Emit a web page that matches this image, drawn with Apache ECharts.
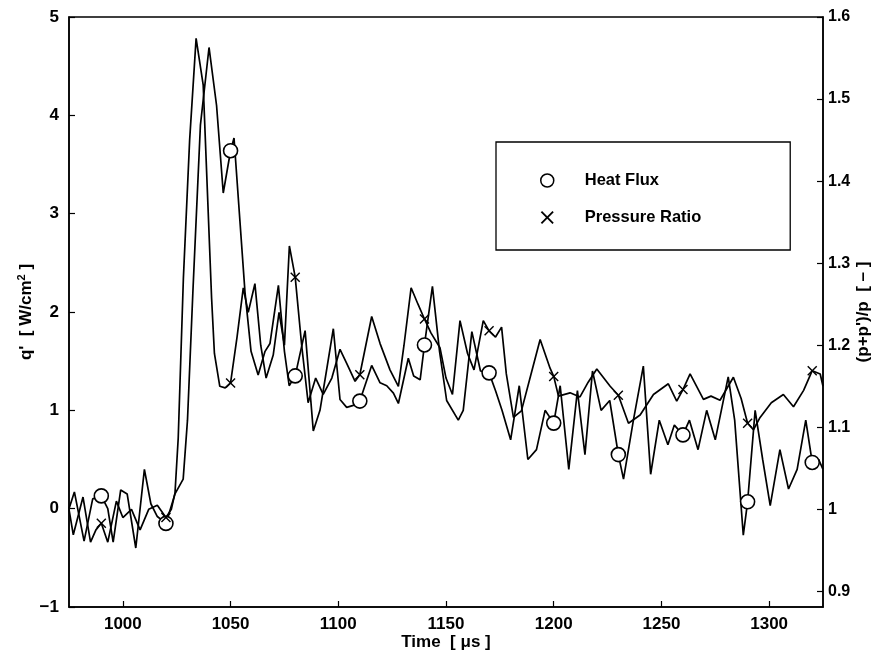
<!DOCTYPE html>
<html><head><meta charset="utf-8">
<script src="https://cdn.jsdelivr.net/npm/echarts@6/dist/echarts.min.js"></script>
<style>html,body{margin:0;padding:0;background:#fff}#c{width:885px;height:659px}</style>
</head><body><div id="c"></div>
<script>
// ---- data ----
const hfTime = [975,977.5,982,986,990,993,995.5,999,1002,1006,1010,1013,1016,1020,1024.2,1028,1030,1032.5,1036,1040,1043.5,1046.6,1050,1051.6,1056.7,1059.5,1062.8,1066,1068.3,1072.2,1075,1077.2,1080,1084.6,1088.4,1091.5,1094.5,1097.7,1100.8,1103.9,1107,1110,1115.5,1119.4,1122.5,1125.6,1127.9,1132.5,1135,1138,1140,1143.7,1147,1150.3,1155.7,1158,1162,1166,1170,1173,1176,1180,1184,1188,1192,1196,1200,1203,1207,1211,1214.5,1218,1222,1226,1230,1232.4,1237,1241.6,1245,1249,1253,1256,1260,1263,1267,1271,1275,1281,1284,1288,1290,1293.5,1297,1300.5,1305,1309,1313,1317,1320,1323,1325];
const hfValue = [0.0,0.17,-0.33,0.1,0.13,0.0,-0.34,0.19,0.15,-0.4,0.4,0.05,-0.08,-0.15,0.15,0.3,0.9,2.2,3.9,4.69,4.1,3.21,3.64,3.77,2.2,1.6,1.36,1.6,1.68,2.27,1.6,1.25,1.35,1.81,0.79,1.0,1.4,1.83,1.11,1.03,1.05,1.094,1.456,1.28,1.25,1.175,1.07,1.53,1.35,1.31,1.665,2.26,1.6,1.1,0.9,1.0,1.8,1.4,1.381,1.2,1.0,0.7,1.25,0.5,0.6,1.0,0.87,1.25,0.4,1.2,0.55,1.4,1.0,1.1,0.55,0.3,0.9,1.45,0.35,0.9,0.65,0.85,0.75,0.9,0.6,1.0,0.7,1.34,0.9,-0.27,0.07,1.0,0.5,0.03,0.6,0.2,0.4,0.9,0.47,0.5,0.4];
const prTime = [975,977,981.5,985,987.5,990,993,997,1000,1004,1008,1012,1016,1020,1022.5,1024.2,1025.7,1028.1,1031,1034,1037.3,1041.2,1042.5,1045,1047.5,1050,1053,1055.9,1058.2,1061.3,1064,1066.5,1069.8,1072.5,1075,1077.3,1080,1083,1086,1089.5,1093,1097,1100.8,1103.9,1107.8,1110,1115.5,1119.4,1124,1127.9,1130.5,1133.8,1137,1140,1143,1147.2,1150,1153,1156.5,1160,1163,1167.3,1170,1173,1175.8,1178,1181.3,1185,1189,1193.7,1198.3,1200,1202.2,1207.6,1212.2,1216,1220,1226.2,1230,1234.7,1240.1,1246.3,1253.2,1257.1,1260,1263.3,1269.5,1273,1277.2,1283.4,1287,1290,1292.7,1295.8,1301,1306.6,1311.3,1316,1320,1323.7,1325];
const prValue = [1.0,0.969,1.015,0.96,0.975,0.983,0.96,1.01,0.99,1.0,0.975,1.0,1.005,0.99,1.0,1.02,1.087,1.282,1.45,1.574,1.517,1.257,1.19,1.15,1.148,1.154,1.21,1.27,1.24,1.275,1.2,1.16,1.188,1.24,1.2,1.321,1.283,1.2,1.13,1.16,1.14,1.16,1.195,1.178,1.156,1.164,1.235,1.202,1.17,1.15,1.2,1.27,1.25,1.232,1.215,1.197,1.16,1.14,1.23,1.19,1.17,1.23,1.2175,1.21,1.222,1.165,1.112,1.12,1.16,1.207,1.172,1.162,1.138,1.142,1.137,1.155,1.171,1.15,1.139,1.105,1.115,1.14,1.153,1.132,1.146,1.165,1.134,1.138,1.133,1.161,1.135,1.105,1.097,1.112,1.13,1.14,1.125,1.145,1.169,1.165,1.15];
const markerTimes = [990,1020,1050,1080,1110,1140,1170,1200,1230,1260,1290,1320];
const xTicks = [1000,1050,1100,1150,1200,1250,1300];
const leftTicks = [-1,0,1,2,3,4,5];
const rightTicks = [0.9,1.0,1.1,1.2,1.3,1.4,1.5,1.6];

// ---- build ----
const pair = (ts, vs) => ts.map((t, i) => [t, vs[i]]);
const pick = (ts, vs) => markerTimes.map(t => [t, vs[ts.indexOf(t)]]);
const FONT = '"Liberation Sans", Arial, Helvetica, sans-serif';
const lbl = {color:'#000', fontFamily:FONT, fontWeight:'bold', fontSize:17};
const crossIcon = 'path://M1,0 L5,4 L9,0 L10,1 L6,5 L10,9 L9,10 L5,6 L1,10 L0,9 L4,5 L0,1 Z';

const chart = echarts.init(document.getElementById('c'), null, {renderer:'canvas'});
chart.setOption({
  animation:false,
  backgroundColor:'#fff',
  grid:{left:69, right:62, top:17, bottom:52, show:true, borderColor:'#000', borderWidth:1.5, backgroundColor:'transparent'},
  xAxis:{type:'value', min:975, max:1325,
    name:'Time  [ μs ]', nameLocation:'middle', nameGap:27, nameMoveOverlap:false, nameTextStyle:lbl,
    axisLine:{onZero:false, lineStyle:{color:'#000', width:1.5}},
    axisTick:{inside:true, length:6, lineStyle:{color:'#000', width:1.2}, customValues:xTicks},
    axisLabel:Object.assign({margin:9, customValues:xTicks, formatter:v => String(v)}, lbl),
    splitLine:{show:false}},
  yAxis:[
    {type:'value', min:-1, max:5, interval:1, position:'left',
     name:"q'  [ W/cm{s|2} ]", nameLocation:'middle', nameGap:33, nameRotate:90, nameMoveOverlap:false,
     nameTextStyle:Object.assign({lineHeight:20, rich:{s:{fontFamily:FONT, fontWeight:'bold', fontSize:11, color:'#000', verticalAlign:'top', lineHeight:20}}}, lbl),
     axisLine:{show:true, lineStyle:{color:'#000', width:1.5}},
     axisTick:{inside:true, length:6, lineStyle:{color:'#000', width:1.2}, customValues:leftTicks},
     axisLabel:Object.assign({margin:10, customValues:leftTicks, formatter:v => v < 0 ? '\u2212' + Math.abs(v) : String(v)}, lbl),
     splitLine:{show:false}},
    {type:'value', min:0.881, max:1.6, position:'right',
     name:"(p+p')/p  [ \u2013 ]", nameLocation:'middle', nameGap:32, nameRotate:90, nameMoveOverlap:false, nameTextStyle:lbl,
     axisLine:{show:true, lineStyle:{color:'#000', width:1.5}},
     axisTick:{inside:true, length:6, lineStyle:{color:'#000', width:1.2}, customValues:rightTicks},
     axisLabel:Object.assign({margin:5, customValues:rightTicks, formatter:v => Math.abs(v-1) < 1e-9 ? '1' : v.toFixed(1)}, lbl, {fontSize:16}),
     splitLine:{show:false}}
  ],
  legend:{
    left:496, top:142, orient:'vertical',
    padding:[30, 89, 24, 44], itemGap:20, itemWidth:13, itemHeight:13,
    borderColor:'#000', borderWidth:1.3, backgroundColor:'#fff',
    textStyle:Object.assign({padding:[0,0,0,26]}, lbl, {fontSize:16.5}),
    data:[
      {name:'Heat Flux', icon:'circle', itemStyle:{color:'#fff', borderColor:'#000', borderWidth:1.5, opacity:1}},
      {name:'Pressure Ratio', icon:crossIcon, itemStyle:{color:'#000', borderWidth:0, opacity:1}}
    ]
  },
  series:[
    {name:'hf-line', type:'line', yAxisIndex:0, data:pair(hfTime, hfValue), symbol:'none',
     lineStyle:{color:'#000', width:1.7}, z:2},
    {name:'pr-line', type:'line', yAxisIndex:1, data:pair(prTime, prValue), symbol:'none',
     lineStyle:{color:'#000', width:1.7}, z:2},
    {name:'Heat Flux', type:'scatter', yAxisIndex:0, data:pick(hfTime, hfValue), symbol:'circle', symbolSize:14,
     itemStyle:{color:'#fff', borderColor:'#000', borderWidth:1.6, opacity:1}, z:3},
    {name:'Pressure Ratio', type:'scatter', yAxisIndex:1, data:pick(prTime, prValue), symbol:crossIcon, symbolSize:10,
     itemStyle:{color:'#000', opacity:1}, z:3}
  ]
});
</script></body></html>
